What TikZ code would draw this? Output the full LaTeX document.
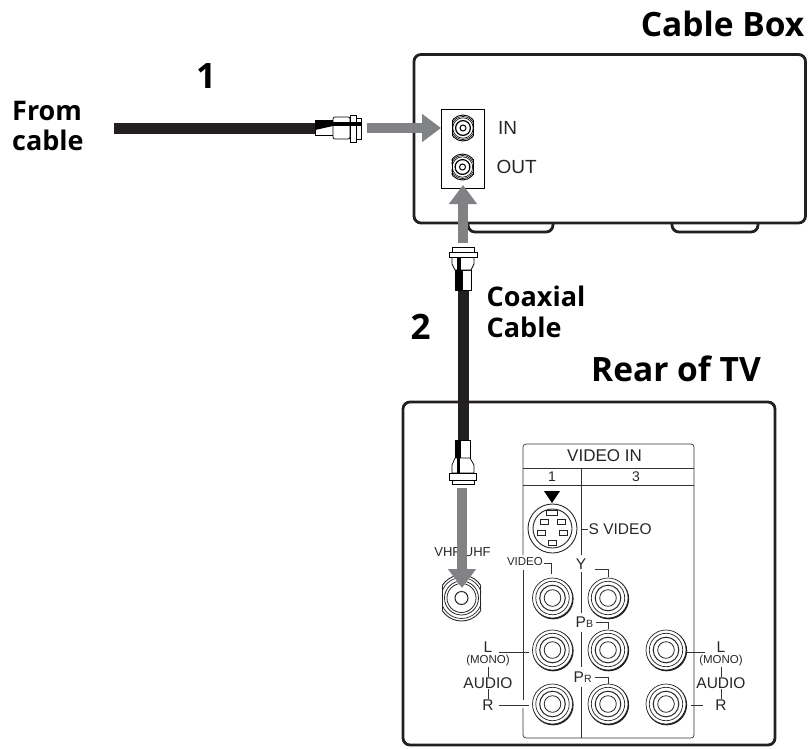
\documentclass[tikz,border=0pt]{standalone}
\usepackage{xcolor}
\usepackage{fontspec}
\setmainfont{Liberation Sans}
\newfontfamily\titlefont{Open Sans}
\usetikzlibrary{positioning,arrows.meta}
\definecolor{feedgray}{HTML}{808285}
\definecolor{inkblack}{HTML}{231F20}
\begin{document}
\begin{tikzpicture}[
  x=1pt, y=-1pt,
  casing/.style={draw=inkblack, line width=2.8pt, rounded corners=7pt},
  panel/.style={draw=black, line width=0.8pt},
  thinline/.style={draw=black!80, line width=0.7pt},
  cable/.style={draw=inkblack, line width=11pt},
  feed/.style={draw=feedgray, line width=9.5pt, -{Triangle[length=19pt,width=27pt]}},
  head/.style={font=\titlefont\bfseries\fontsize{33.5}{36}\selectfont, inner sep=0pt},
  stepno/.style={font=\titlefont\bfseries\fontsize{35}{38}\selectfont, inner sep=0pt},
  side/.style={font=\titlefont\bfseries\fontsize{27}{30.5}\selectfont, align=left, inner sep=0pt},
  small/.style={font=\fontsize{15.5}{17}\selectfont, text=black!85, inner sep=0pt},
  tiny/.style={font=\fontsize{11.5}{13}\selectfont, text=black!85, inner sep=0pt},
  pin/.style={draw=black!85, line width=0.7pt, fill=white, minimum width=8pt, minimum height=5pt, inner sep=0pt},
  ferrule/.style={draw=black, line width=0.7pt, fill=white},
  pics/rca/.style={code={
    \draw[black!90, line width=1.8pt] (0.6,0.8) circle (19.6pt);
    \draw[black!85, fill=white, line width=0.7pt] (0,0) circle (20pt);
    \draw[black!85, line width=0.7pt] (0,0) circle (16.7pt);
    \draw[black!85, line width=1pt] (0,0) circle (12.8pt);
    \draw[black!85, line width=0.8pt] (0,0) circle (8.3pt);
  }},
  pics/fjack/.style={code={
    \begin{scope}
      \clip (-10.8,-15) rectangle (10.8,15);
      \draw[black, line width=0.9pt] (0,0) circle (13pt);
      \draw[black, line width=0.6pt] (0,0) circle (11.6pt);
      \draw[black, line width=0.6pt] (0,0) circle (10.2pt);
    \end{scope}
    \draw[black, line width=0.9pt] (-10.5,-8) -- (-10.5,8) (10.5,-8) -- (10.5,8);
    \draw[black, line width=1.2pt] (0,0) circle (7.4pt);
    \draw[black, line width=1pt] (0,0) circle (3pt);
  }},
]
  \useasboundingbox (0,0) rectangle (809,748);

  % Headings
  \node[head, anchor=base east] (cablebox) at (804.5,36) {Cable Box};
  \node[head, anchor=base west] (reartv) at (591,381.5) {Rear of TV};
  \node[stepno] (one) at (206,76) {1};
  \node[stepno] (two) at (420.5,327) {2};
  \node[side, anchor=west] (fromcable) at (12,126) {From\\cable};
  \node[side, anchor=west] (coaxial) at (486.5,312) {Coaxial\\Cable};

  % Cable box
  \draw[casing] (468,223) -- (468,232) -- (553,232) -- (553,223);
  \draw[casing] (672,223) -- (672,232) -- (758,232) -- (758,223);
  \draw[casing, fill=white] (414,54.5) rectangle (805.5,223);
  \node[panel, minimum width=43pt, minimum height=79pt, inner sep=0pt] (ports) at (462.5,148.5) {};
  \coordinate (injack) at (463,128);
  \coordinate (outjack) at (462.5,167);
  \pic at (injack) {fjack};
  \pic at (outjack) {fjack};
  \node[small, font=\fontsize{19}{21}\selectfont, anchor=west] (inlabel) at (498,128) {IN};
  \node[small, font=\fontsize{19}{21}\selectfont, anchor=west] (outlabel) at (496.5,167) {OUT};

  % Rear of TV
  \draw[casing] (403,402) rectangle (775,745);
  \coordinate (tl) at (523,444);
  \coordinate (tr) at (694,444);
  \draw[thinline, rounded corners=3pt] (523,555) -- (tl) -- (tr) -- (694,738) -- (523,738) -- (523,708);
  \draw[thinline] (523,570) -- (523,700);
  \draw[thinline] (523,468) -- (694,468) (523,485) -- (694,485);
  \draw[thinline] (581,468) -- (581,555) (581,572) -- (581,613) (581,632) -- (581,667) (581,687) -- (581,738);
  \node[small, font=\fontsize{17}{19}\selectfont] (videoin) at (604.5,456) {VIDEO IN};
  \node[tiny, font=\fontsize{14}{16}\selectfont] (no1) at (552,477) {1};
  \node[tiny, font=\fontsize{14}{16}\selectfont] (no3) at (636,477) {3};

  % S video socket
  \fill[black] (544,491) -- (560,491) -- (552,503) -- cycle;
  \draw[black!85, line width=0.9pt] (552.5,528.5) circle (24.5pt);
  \draw[black!85, line width=0.9pt, fill=white] (552.5,528.5) circle (19.5pt);
  \node[pin, minimum width=11pt] (p1) at (552,512.5) {};
  \node[pin] (p2) at (544,522) {};
  \node[pin] (p3) at (561,522) {};
  \node[pin] (p4) at (541,532.5) {};
  \node[pin] (p5) at (563.5,532.5) {};
  \node[pin] (p6) at (552.5,543) {};
  \draw[thinline] (581,529) -- (588,529);
  \node[small, anchor=west] (svideo) at (588.5,529.5) {S VIDEO};

  % RCA sockets
  \pic at (552.5,598) {rca};
  \pic at (608,598) {rca};
  \pic at (552.5,650) {rca};
  \pic at (608,650) {rca};
  \pic at (666,650) {rca};
  \pic at (552.5,704) {rca};
  \pic at (608,704) {rca};
  \pic at (666,704) {rca};

  % Socket labels
  \node[tiny, anchor=east] (videolabel) at (543,562) {VIDEO};
  \draw[thinline] (544,563) -- (551,563) -- (551,574);
  \node[small] (ylabel) at (581,564) {Y};
  \draw[thinline] (595,569) -- (608,569) -- (608,577);
  \node[small, anchor=west] (pb) at (575.5,622) {P\raisebox{-0.2pt}{\fontsize{10.5}{11}\selectfont B}};
  \draw[thinline] (596,622) -- (608,622) -- (608,629);
  \node[small, anchor=west] (pr) at (573.5,677) {P\raisebox{-0.2pt}{\fontsize{10.5}{11}\selectfont R}};
  \draw[thinline] (595,677) -- (608,677) -- (608,684);

  \node[small] (leftl) at (488,647.5) {L};
  \node[tiny] (leftmono) at (488,661) {(MONO)};
  \node[small] (leftaudio) at (488,683) {AUDIO};
  \node[small] (leftr) at (488,705) {R};
  \draw[thinline] (leftmono) -- (leftaudio) (leftaudio) -- (leftr);
  \draw[thinline] (499,652) -- (529,652) (499,705) -- (529,705);

  \node[small] (rightl) at (721,647.5) {L};
  \node[tiny] (rightmono) at (721,661) {(MONO)};
  \node[small] (rightaudio) at (721,683) {AUDIO};
  \node[small] (rightr) at (721,705) {R};
  \draw[thinline] (rightmono) -- (rightaudio) (rightaudio) -- (rightr);
  \draw[thinline] (686,652) -- (705,652) (691,705) -- (703,705);

  % VHF/UHF socket
  \node[tiny, font=\fontsize{13}{15}\selectfont] (vhfuhf) at (462.5,552) {VHF/UHF};
  \coordinate (vhfjack) at (461.5,598);
  \begin{scope}
    \clip (442,570) rectangle (481,625);
    \draw[black!85, line width=0.9pt] (vhfjack) circle (23pt);
    \draw[black!85, line width=0.7pt] (vhfjack) circle (20.5pt);
  \end{scope}
  \draw[black!85, line width=0.9pt] (442.7,586) -- (442.7,610) (480.3,586) -- (480.3,610);
  \draw[black!85, line width=0.8pt] (vhfjack) circle (17pt);
  \draw[black!85, line width=0.8pt] (vhfjack) circle (14.5pt);
  \draw[black!85, line width=1pt] (vhfjack) circle (6.5pt);

  % Cables
  \coordinate (cablestart) at (114,128);
  \coordinate (plugone) at (316,128);
  \coordinate (plugtwo) at (463.5,290);
  \coordinate (plugthree) at (463.5,440);
  \draw[cable] (cablestart) -- (plugone);
  \draw[cable] (plugtwo) -- (plugthree);

  % Plug on cable 1
  \draw[ferrule] (315,120.5) rectangle (333,135.5);
  \draw[ferrule, rounded corners=2pt] (333,117) rectangle (350,139);
  \draw[ferrule] (350,115) rectangle (356,142);
  \draw[ferrule] (356,118) rectangle (361,139);
  \fill[black] (315,121) -- (333,121) -- (333,126) -- (315,130) -- cycle;
  \fill[black] (333,122) rectangle (361,126);

  % Plug on top of cable 2
  \draw[ferrule] (455,270) rectangle (471,290);
  \draw[ferrule] (452,257) -- (474,257) -- (474,264) -- (471,270) -- (455,270) -- (452,264) -- cycle;
  \draw[ferrule] (449,252) rectangle (477,257);
  \draw[ferrule] (452,247) rectangle (474,252);
  \fill[black] (455,270) rectangle (463,290);
  \fill[black] (457,257) rectangle (461,270);

  % Plug on bottom of cable 2
  \draw[ferrule] (455,440) rectangle (470,458);
  \draw[ferrule] (452,473) -- (474,473) -- (474,465) -- (470,458) -- (455,458) -- (452,465) -- cycle;
  \draw[ferrule] (449,473) rectangle (476,480);
  \draw[ferrule] (452,480) rectangle (474,484);
  \fill[black] (455,440) rectangle (461,458);
  \fill[black] (457,458) rectangle (460,473);

  % Arrows
  \coordinate (feedone) at (367,128);
  \coordinate (feedtwo) at (463,243);
  \coordinate (feedthree) at (462,488);
  \draw[feed] (feedone) -- (441,128);
  \draw[feed] (feedtwo) -- (463,185);
  \draw[feed] (feedthree) -- (462,588);
\end{tikzpicture}
\end{document}
